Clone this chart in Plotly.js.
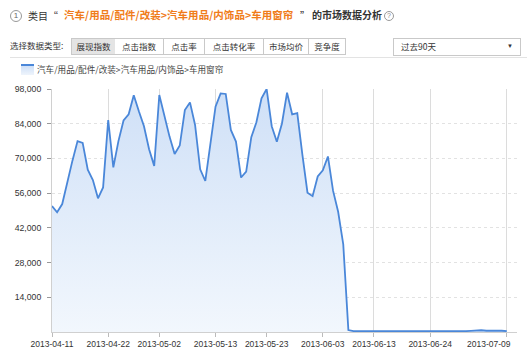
<!DOCTYPE html>
<html>
<head>
<meta charset="utf-8">
<script src="https://cdn.plot.ly/plotly-3.0.1.min.js"></script>
<style>
  html, body { margin:0; padding:0; background:#fff; }
  body { width:527px; height:357px; position:relative; overflow:hidden;
         font-family:"Liberation Sans","Noto Sans CJK SC",sans-serif; color:#333; }
  #chart { position:absolute; left:0; top:0; width:527px; height:357px; }
  .abs { position:absolute; white-space:nowrap; line-height:1; }
  .cjk { font-family:"Noto Sans CJK SC","Liberation Sans",sans-serif; }
  .btn { position:absolute; top:38px; height:15px; border:1px solid #c9c9c9; border-left:none;
         background:#fff; font-size:8.5px; line-height:15px; text-align:center; color:#333;
         font-family:"Noto Sans CJK SC",sans-serif; box-sizing:content-box; }
</style>
</head>
<body>
<div id="chart"></div>

<!-- header -->
<div class="abs" style="left:10px;top:10px;width:10px;height:10px;border:1px solid #999;border-radius:50%;font-size:8px;line-height:10px;text-align:center;color:#666;">1</div>
<div class="abs cjk" style="left:28px;top:11px;font-size:10px;color:#333;">类目“</div>
<div class="abs cjk" style="left:64px;top:10px;font-size:10.5px;font-weight:bold;color:#f07c1a;letter-spacing:0.05px;">汽车/用品/配件/改装&gt;汽车用品/内饰品&gt;车用窗帘</div>
<div class="abs cjk" style="left:300px;top:11px;font-size:10px;color:#333;">”</div>
<div class="abs cjk" style="left:312px;top:10px;font-size:10px;font-weight:bold;color:#333;">的市场数据分析</div>
<div class="abs" style="left:384px;top:11px;width:8px;height:8px;border:1px solid #999;border-radius:50%;font-size:7px;line-height:8px;text-align:center;color:#888;">?</div>

<div class="abs cjk" style="left:10px;top:41px;font-size:8.5px;color:#333;">选择数据类型:</div>
<div class="btn" style="left:71px;width:43px;border-left:1px solid #c9c9c9;background:#e4e4e4;">展现指数</div>
<div class="btn" style="left:115px;width:48px;">点击指数</div>
<div class="btn" style="left:164px;width:40px;">点击率</div>
<div class="btn" style="left:205px;width:58px;">点击转化率</div>
<div class="btn" style="left:264px;width:44px;">市场均价</div>
<div class="btn" style="left:309px;width:36px;">竞争度</div>

<div class="abs" style="left:393px;top:38px;width:126px;height:16px;border:1px solid #c9c9c9;background:#fff;"></div>
<div class="abs cjk" style="left:401px;top:42px;font-size:8.5px;color:#333;">过去90天</div>
<div class="abs" style="left:507px;top:43px;font-size:6px;color:#333;">▼</div>

<div class="abs" style="left:10px;top:57px;width:517px;height:1px;background:#e3e3e3;"></div>

<!-- legend -->
<div class="abs" style="left:21px;top:64px;width:13px;height:9px;border-top:2px solid #4a87d9;background:linear-gradient(#cfe0f7,#eef4fc);"></div>
<div class="abs cjk" style="left:37px;top:65px;font-size:8.6px;color:#444;">汽车/用品/配件/改装&gt;汽车用品/内饰品&gt;车用窗帘</div>

<script>
var seriesName = "汽车/用品/配件/改装>汽车用品/内饰品>车用窗帘";

var dates = [
  "2013-04-11","2013-04-12","2013-04-13","2013-04-14","2013-04-15","2013-04-16","2013-04-17","2013-04-18","2013-04-19","2013-04-20",
  "2013-04-21","2013-04-22","2013-04-23","2013-04-24","2013-04-25","2013-04-26","2013-04-27","2013-04-28","2013-04-29","2013-04-30",
  "2013-05-01","2013-05-02","2013-05-03","2013-05-04","2013-05-05","2013-05-06","2013-05-07","2013-05-08","2013-05-09","2013-05-10",
  "2013-05-11","2013-05-12","2013-05-13","2013-05-14","2013-05-15","2013-05-16","2013-05-17","2013-05-18","2013-05-19","2013-05-20",
  "2013-05-21","2013-05-22","2013-05-23","2013-05-24","2013-05-25","2013-05-26","2013-05-27","2013-05-28","2013-05-29","2013-05-30",
  "2013-05-31","2013-06-01","2013-06-02","2013-06-03","2013-06-04","2013-06-05","2013-06-06","2013-06-07","2013-06-08","2013-06-09",
  "2013-06-10","2013-06-11","2013-06-12","2013-06-13","2013-06-14","2013-06-15","2013-06-16","2013-06-17","2013-06-18","2013-06-19",
  "2013-06-20","2013-06-21","2013-06-22","2013-06-23","2013-06-24","2013-06-25","2013-06-26","2013-06-27","2013-06-28","2013-06-29",
  "2013-06-30","2013-07-01","2013-07-02","2013-07-03","2013-07-04","2013-07-05","2013-07-06","2013-07-07","2013-07-08","2013-07-09"
];

var impressions = [
  50800, 48300, 51600, 60600, 69100, 77000, 76300, 65500, 61300, 53900,
  58300, 85500, 66400, 77000, 85300, 87800, 95500, 89000, 83000, 73700,
  67000, 95600, 87200, 78800, 71800, 75200, 89500, 92600, 83500, 65600,
  60900, 75000, 90900, 96200, 96000, 81500, 76800, 62300, 64700, 78600,
  84600, 94200, 98000, 83000, 76700, 84100, 96500, 87800, 88300, 71500,
  56200, 54800, 62700, 65200, 70800, 57000, 48500, 35300, 800, 350,
  300, 300, 320, 300, 280, 300, 310, 300, 290, 300,
  300, 310, 300, 290, 300, 300, 320, 300, 310, 300,
  320, 350, 450, 600, 700, 500, 600, 450, 500, 350
];

var yTicks = [14000, 28000, 42000, 56000, 70000, 84000, 98000];
var xTicks = ["2013-04-11","2013-04-22","2013-05-02","2013-05-13","2013-05-23","2013-06-03","2013-06-13","2013-06-24","2013-07-09"];
// last label is drawn right-aligned (as in the reference) so it stays inside the frame
var xTickText = xTicks.slice(0, xTicks.length - 1).concat([""]);
var lastTick = xTicks[xTicks.length - 1];

var trace = {
  type: "scatter",
  mode: "lines",
  name: seriesName,
  x: dates,
  y: impressions,
  line: { color: "#4a87d9", width: 1.8 },
  fill: "tozeroy",
  fillgradient: {
    type: "vertical",
    start: 0,
    stop: 98000,
    colorscale: [[0, "rgba(242,247,253,1)"], [1, "rgba(207,224,247,1)"]]
  },
  hoverinfo: "x+y"
};

var layout = {
  width: 527, height: 357,
  margin: { l: 52, r: 10, t: 89, b: 25, pad: 0 },
  paper_bgcolor: "rgba(0,0,0,0)",
  plot_bgcolor: "#fff",
  showlegend: false,
  font: { family: "Liberation Sans, Noto Sans CJK SC, sans-serif", size: 8.5, color: "#333" },
  xaxis: {
    type: "date",
    range: ["2013-04-11", "2013-07-11"],
    tickvals: xTicks,
    ticktext: xTickText,
    showgrid: true, gridcolor: "#dcdcdc", gridwidth: 1,
    showline: true, linecolor: "#d0d0d0", linewidth: 1,
    ticks: "outside", ticklen: 4, tickcolor: "#bbb",
    tickfont: { size: 8.5, color: "#333" },
    zeroline: false, fixedrange: true
  },
  yaxis: {
    range: [0, 98000],
    tickvals: yTicks,
    tickformat: ",d",
    showgrid: true, gridcolor: "#e2e2e2", griddash: "dot", gridwidth: 1,
    showline: true, linecolor: "#d0d0d0", linewidth: 1,
    ticks: "outside", ticklen: 4, tickcolor: "#999",
    ticklabelstandoff: 4,
    tickfont: { size: 8.7, color: "#333" },
    zeroline: false, fixedrange: true
  },
  annotations: [{
    xref: "x", yref: "paper",
    x: lastTick, y: 0,
    xanchor: "right", yanchor: "top",
    xshift: 6, yshift: -5,
    text: lastTick,
    showarrow: false,
    font: { size: 8.5, color: "#333", family: "Liberation Sans, sans-serif" }
  }]
};

Plotly.newPlot("chart", [trace], layout, { displayModeBar: false, staticPlot: true });
</script>
</body>
</html>
